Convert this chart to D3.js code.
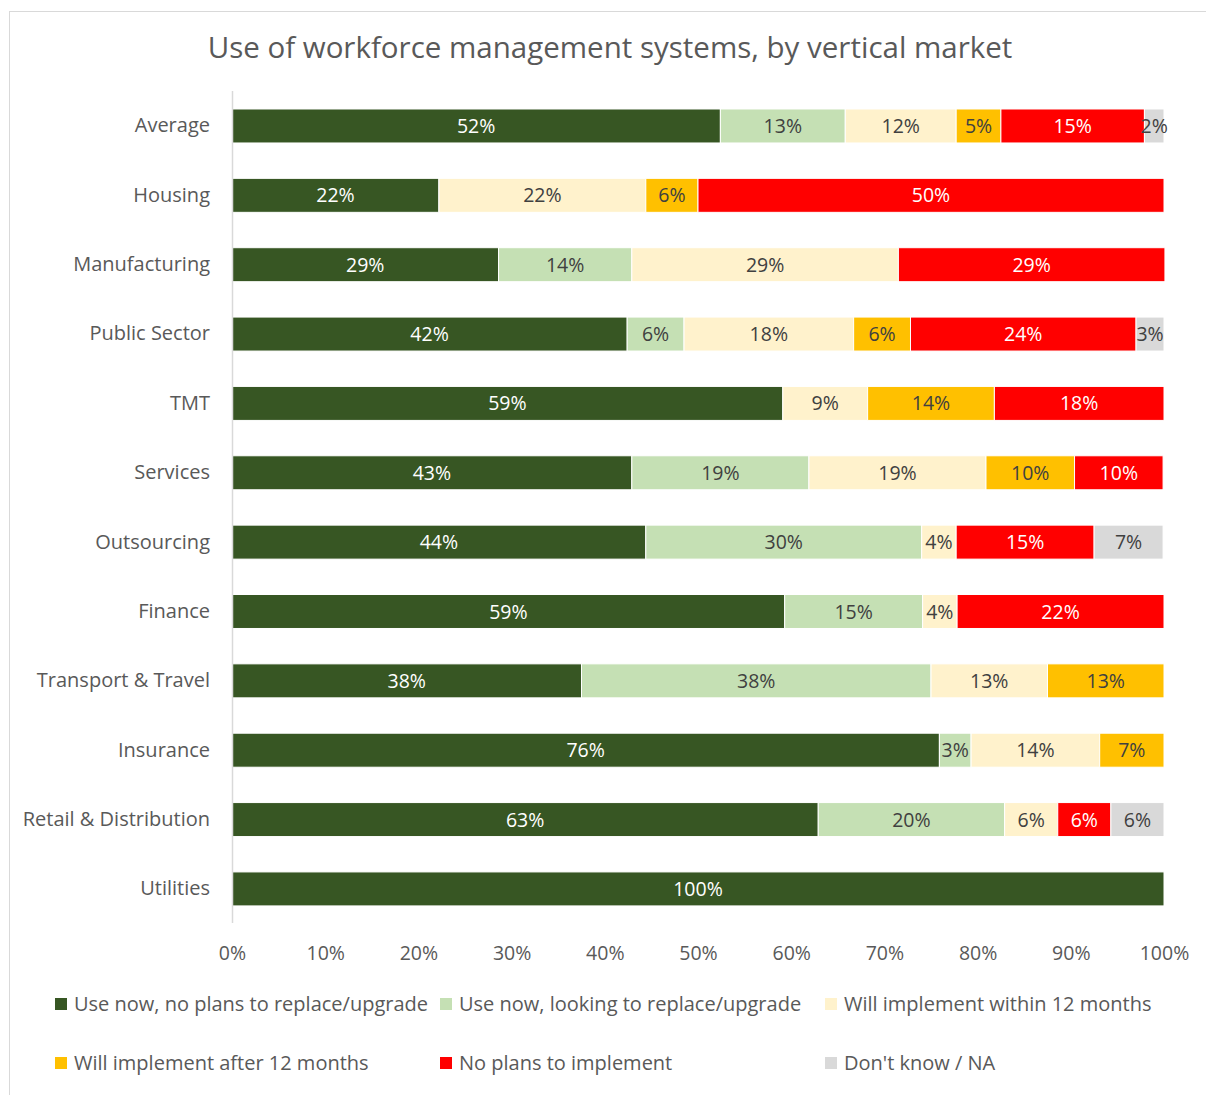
<!DOCTYPE html>
<html><head><meta charset="utf-8">
<script src="https://cdn.jsdelivr.net/npm/d3@7"></script>
<style>body{margin:0;background:#fff;} svg{display:block;font-family:"Open Sans",sans-serif;}</style>
</head><body>
<svg id="chart" width="1206" height="1095"></svg>
<script>
const categories = ["Average","Housing","Manufacturing","Public Sector","TMT","Services","Outsourcing","Finance","Transport & Travel","Insurance","Retail & Distribution","Utilities"];
const seriesNames = ["Use now, no plans to replace/upgrade","Use now, looking to replace/upgrade","Will implement within 12 months","Will implement after 12 months","No plans to implement","Don't know / NA"];
const useNoPlans = [52.4, 22.2, 28.6, 42.4, 59.1, 42.9, 44.4, 59.3, 37.5, 75.9, 62.9, 100];
const useReplace = [13.4, 0, 14.3, 6.1, 0, 19.0, 29.6, 14.8, 37.5, 3.4, 20.0, 0];
const within12   = [11.9, 22.2, 28.6, 18.2, 9.1, 19.0, 3.7, 3.7, 12.5, 13.8, 5.7, 0];
const after12    = [4.8, 5.6, 0, 6.1, 13.6, 9.5, 0, 0, 12.5, 6.9, 0, 0];
const noPlans    = [15.4, 50, 28.6, 24.2, 18.2, 9.5, 14.8, 22.2, 0, 0, 5.7, 0];
const dontKnow   = [2.1, 0, 0, 3.0, 0, 0, 7.4, 0, 0, 0, 5.7, 0];
const xTicks = [0,10,20,30,40,50,60,70,80,90,100];

const seriesValues = [useNoPlans, useReplace, within12, after12, noPlans, dontKnow];
const colors = ["#375623","#C5E0B4","#FFF2CC","#FFC000","#FF0000","#D9D9D9"];
const labelColors = ["#ffffff","#404040","#404040","#404040","#ffffff","#404040"];

const svg = d3.select("#chart");
const textColor = "#595959";

// outer border
svg.append("rect").attr("x",9.5).attr("y",11.5).attr("width",1210).attr("height",1100)
  .attr("fill","#fff").attr("stroke","#d9d9d9").attr("stroke-width",1);

// title
svg.append("text").attr("x",610).attr("y",58).attr("text-anchor","middle")
  .attr("font-size",29.5).attr("fill",textColor)
  .text("Use of workforce management systems, by vertical market");

const x = d3.scaleLinear().domain([0,100]).range([232,1164]);
const y = d3.scaleBand().domain(categories).range([91.3,923.6]).paddingInner(0.51).paddingOuter(0.255);

const rows = categories.map((c,i)=>{ const o={cat:c}; seriesValues.forEach((s,k)=>o["s"+k]=s[i]); return o; });
const stack = d3.stack().keys(seriesValues.map((s,k)=>"s"+k));
const stacked = stack(rows);

const g = svg.append("g");
stacked.forEach((layer,k)=>{
  const lg = g.append("g");
  lg.selectAll("rect").data(layer.filter(d=>d[1]-d[0]>0)).join("rect")
    .attr("x",d=>x(d[0])).attr("width",d=>x(d[1])-x(d[0]))
    .attr("y",d=>y(d.data.cat)).attr("height",y.bandwidth())
    .attr("fill",colors[k]).attr("stroke","#fff").attr("stroke-width",1);
});
stacked.forEach((layer,k)=>{
  g.append("g").selectAll("text").data(layer.filter(d=>d[1]-d[0]>0)).join("text")
    .attr("x",d=>(x(d[0])+x(d[1]))/2).attr("y",d=>y(d.data.cat)+y.bandwidth()/2)
    .attr("dy","0.36em").attr("text-anchor","middle").attr("font-size",19.5)
    .attr("fill",labelColors[k]).text(d=>Math.round(d[1]-d[0])+"%");
});

// vertical axis line
svg.append("line").attr("x1",232.5).attr("x2",232.5).attr("y1",91).attr("y2",923)
  .attr("stroke","#d9d9d9").attr("stroke-width",1.5);

// category labels
const yAxis = d3.axisLeft(y).tickSize(0).tickPadding(22);
const ya = svg.append("g").attr("transform","translate(232,0)").call(yAxis);
ya.select(".domain").remove();
ya.selectAll("text").attr("font-size",20).attr("fill",textColor).attr("font-family","Open Sans");

// x axis
const xAxis = d3.axisBottom(x).tickValues(xTicks).tickFormat(d=>d+"%").tickSize(0).tickPadding(0);
const xa = svg.append("g").attr("transform","translate(0,953)").call(xAxis);
xa.select(".domain").remove();
xa.selectAll("text").attr("font-size",19.5).attr("fill",textColor).attr("font-family","Open Sans").attr("dy","0.35em");

// legend
const legendPos = [[55,1004],[440,1004],[825,1004],[55,1063],[440,1063],[825,1063]];
const lg = svg.append("g");
seriesNames.forEach((n,k)=>{
  const [lx,ly] = legendPos[k];
  lg.append("rect").attr("x",lx).attr("y",ly-6).attr("width",12).attr("height",12).attr("fill",colors[k]);
  lg.append("text").attr("x",lx+19).attr("y",ly).attr("dy","0.36em").attr("font-size",20)
    .attr("fill",textColor).text(n);
});
</script>
</body></html>
